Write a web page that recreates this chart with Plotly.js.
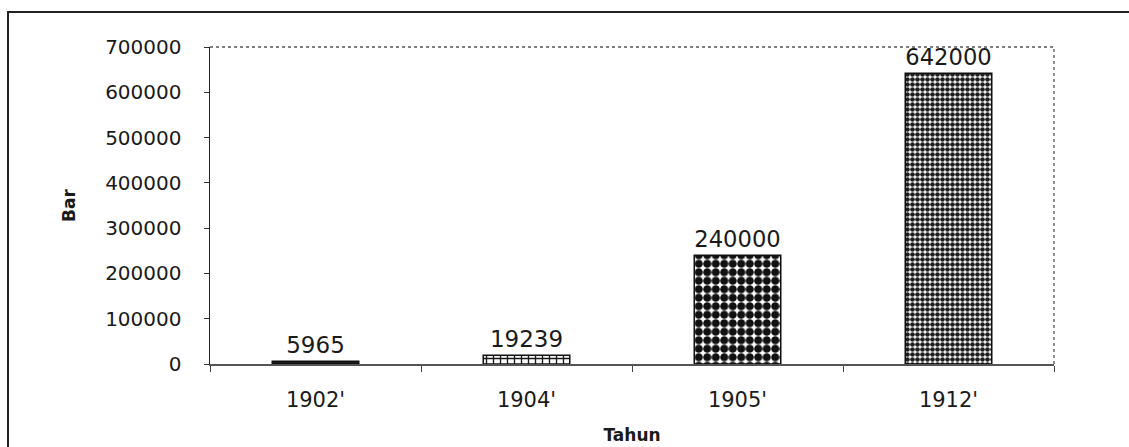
<!DOCTYPE html>
<html>
<head>
<meta charset="utf-8">
<script src="https://cdn.plot.ly/plotly-3.0.1.min.js"></script>
<style>
html,body{margin:0;padding:0;background:#fff;}
#chart{width:1129px;height:447px;}
</style>
</head>
<body>
<div id="chart"></div>
<script>
// Data
const categories = ["1902'", "1904'", "1905'", "1912'"];
const values = [5965, 19239, 240000, 642000];
const yTickValues = [0, 100000, 200000, 300000, 400000, 500000, 600000, 700000];

// Styles (one per bar)
const barStyles = [
  {shape: '', fg: '#1a1a1a', bg: '#1a1a1a', size: 6, solidity: 0.5},
  {shape: '+', fg: '#1a1a1a', bg: '#ffffff', size: 7, solidity: 0.35},
  {shape: '.', fg: '#111111', bg: '#ffffff', size: 8.5, solidity: 0.72},
  {shape: '.', fg: '#1e1e1e', bg: '#ffffff', size: 5, solidity: 0.68}
];

const W = 1129, H = 447;
const L = 210, R = 75, T = 47, B = 83;
const pw = W - L - R, ph = H - T - B;
const px = x => (x - L) / pw;
const py = y => (H - B - y) / ph;

const font = 'DejaVu Sans, Liberation Sans, Arial, sans-serif';

const traces = categories.map((c, i) => {
  const s = barStyles[i];
  return {
    type: 'bar',
    x: [c],
    y: [values[i]],
    text: [String(values[i])],
    textposition: 'outside',
    textfont: {family: font, size: 23, color: '#1a1a1a'},
    cliponaxis: false,
    width: 0.41,
    marker: {
      color: s.bg,
      line: {color: '#111', width: 1.5},
      pattern: s.shape ? {
        shape: s.shape, fgcolor: s.fg, bgcolor: s.bg,
        size: s.size, solidity: s.solidity, fillmode: 'replace', fgopacity: 1
      } : undefined
    },
    hoverinfo: 'skip'
  };
});

const layout = {
  width: W, height: H,
  margin: {l: L, r: R, t: T, b: B, pad: 0},
  paper_bgcolor: '#fff',
  plot_bgcolor: '#fff',
  showlegend: false,
  barmode: 'overlay',
  font: {family: font, color: '#1a1a1a'},
  xaxis: {
    type: 'category',
    categoryorder: 'array', categoryarray: categories,
    showline: true, linecolor: '#555', linewidth: 1.5,
    ticks: 'outside', tickson: 'boundaries', ticklen: 6, tickcolor: '#444', tickwidth: 1,
    tickfont: {family: font, size: 21, color: '#1a1a1a'},
    ticklabelstandoff: 16,
    showgrid: false, zeroline: false,
    title: {text: '<b>Tahun</b>', font: {family: font, size: 17, color: '#1a1a1a'}, standoff: 18}
  },
  yaxis: {
    range: [0, 700000],
    tickvals: yTickValues,
    ticktext: yTickValues.map(v => String(v)),
    showline: true, linecolor: '#222', linewidth: 1.5,
    ticks: 'outside', ticklen: 5, tickcolor: '#333',
    tickfont: {family: font, size: 20, color: '#1a1a1a'},
    ticklabelstandoff: 18,
    showgrid: false, zeroline: false,
    title: {text: '<b>Bar</b>', font: {family: font, size: 17, color: '#1a1a1a'}, standoff: 25}
  },
  shapes: [
    {type: 'line', xref: 'paper', yref: 'paper', x0: 0, x1: 1, y0: 1, y1: 1,
     line: {color: '#555', width: 1.3, dash: 'dot'}},
    {type: 'line', xref: 'paper', yref: 'paper', x0: 1, x1: 1, y0: 0, y1: 1,
     line: {color: '#555', width: 1.3, dash: 'dot'}},
    {type: 'rect', xref: 'paper', yref: 'paper',
     x0: px(8), x1: px(1140), y0: py(12), y1: py(470),
     line: {color: '#222', width: 2}, fillcolor: 'rgba(0,0,0,0)', layer: 'above'}
  ]
};

Plotly.newPlot('chart', traces, layout, {displayModeBar: false, staticPlot: true});
</script>
</body>
</html>
